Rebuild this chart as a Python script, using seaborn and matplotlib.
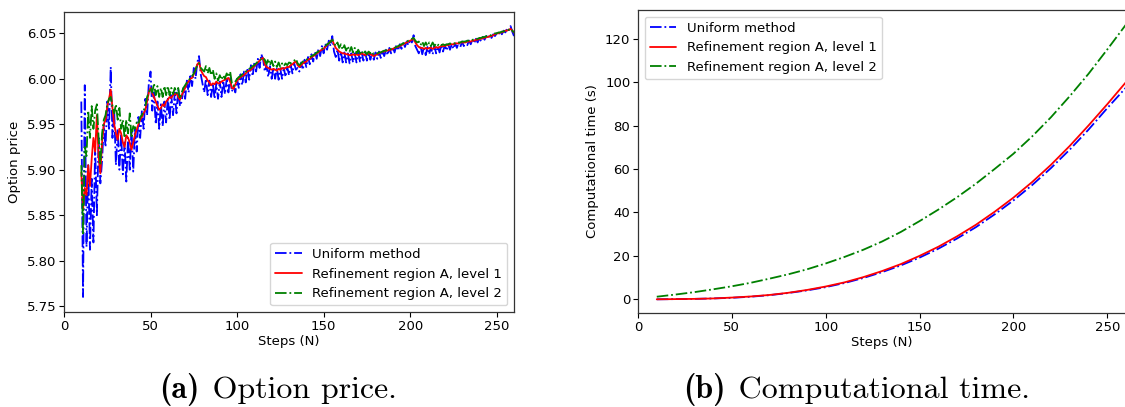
import matplotlib
matplotlib.use("Agg")
import matplotlib.pyplot as plt
import seaborn as sns
import numpy as np

# ---------------- data ----------------
steps = list(range(10, 261))

price_uniform = [
    5.975, 5.760, 5.993, 5.815, 5.905, 5.812, 5.890, 5.820, 5.925, 5.850,   # 10-19
    5.935, 5.885, 5.910, 5.950, 5.925, 5.975, 5.945, 6.013, 5.935, 5.965,   # 20-29
    5.905, 5.945, 5.900, 5.940, 5.895, 5.930, 5.887, 5.935, 5.900, 5.945,   # 30-39
    5.898, 5.945, 5.920, 5.958, 5.935, 5.965, 5.945, 5.978, 5.960, 5.995,   # 40-49
    6.008, 5.965, 5.985, 5.950, 5.975, 5.945, 5.972, 5.948, 5.975, 5.952,   # 50-59
    5.980, 5.955, 5.982, 5.960, 5.985, 5.962, 5.988, 5.970, 5.975, 5.990,   # 60-69
    5.978, 5.998, 5.985, 6.005, 5.992, 6.012, 6.000, 6.018, 6.025, 6.005,   # 70-79
    5.995, 5.985, 6.000, 5.982, 5.998, 5.980, 5.995, 5.978, 5.995, 5.978,   # 80-89
    5.997, 5.980, 5.998, 5.983, 6.000, 5.985, 6.002, 5.986, 5.992, 5.985,   # 90-99
    6.000, 5.990, 6.005, 5.993, 6.008, 5.996, 6.012, 5.999, 6.015, 6.003,   # 100-109
    6.018, 6.008, 6.022, 6.012, 6.027, 6.022, 6.008, 6.015, 6.002, 6.014,   # 110-119
    6.000, 6.012, 6.000, 6.012, 5.999, 6.011, 6.000, 6.012, 6.002, 6.013,   # 120-129
    6.004, 6.015, 6.006, 6.017, 6.010, 6.012, 6.008, 6.018, 6.010, 6.021,   # 130-139
    6.013, 6.024, 6.016, 6.027, 6.019, 6.030, 6.022, 6.033, 6.025, 6.036,   # 140-149
    6.028, 6.039, 6.032, 6.042, 6.036, 6.047, 6.030, 6.024, 6.032, 6.020,   # 150-159
    6.030, 6.018, 6.029, 6.018, 6.028, 6.017, 6.028, 6.018, 6.028, 6.018,   # 160-169
    6.029, 6.019, 6.029, 6.020, 6.030, 6.020, 6.030, 6.021, 6.028, 6.021,   # 170-179
    6.029, 6.022, 6.030, 6.023, 6.031, 6.025, 6.032, 6.026, 6.034, 6.028,   # 180-189
    6.035, 6.029, 6.037, 6.031, 6.038, 6.033, 6.040, 6.035, 6.041, 6.037,   # 190-199
    6.043, 6.040, 6.048, 6.036, 6.032, 6.028, 6.036, 6.027, 6.035, 6.026,   # 200-209
    6.035, 6.027, 6.035, 6.027, 6.036, 6.028, 6.036, 6.029, 6.037, 6.030,   # 210-219
    6.037, 6.031, 6.038, 6.032, 6.038, 6.033, 6.039, 6.034, 6.040, 6.035,   # 220-229
    6.041, 6.036, 6.041, 6.037, 6.042, 6.038, 6.043, 6.039, 6.044, 6.040,   # 230-239
    6.045, 6.041, 6.046, 6.043, 6.047, 6.044, 6.048, 6.045, 6.049, 6.047,   # 240-249
    6.050, 6.048, 6.052, 6.049, 6.053, 6.051, 6.055, 6.053, 6.058, 6.052,   # 250-259
    6.047,                                                                   # 260
]

price_level1 = [
    5.897, 5.856, 5.880, 5.872, 5.905, 5.882, 5.912, 5.935, 5.920, 5.960,
    5.915, 5.896, 5.930, 5.950, 5.955, 5.970, 5.978, 5.988, 5.968, 5.950,
    5.940, 5.933, 5.945, 5.940, 5.930, 5.925, 5.938, 5.935, 5.930, 5.922,
    5.930, 5.938, 5.944, 5.950, 5.955, 5.958, 5.962, 5.966, 5.975, 5.985,
    5.990, 5.984, 5.980, 5.975, 5.970, 5.966, 5.968, 5.972, 5.970, 5.975,
    5.977, 5.980, 5.979, 5.982, 5.983, 5.984, 5.980, 5.977, 5.982, 5.986,
    5.990, 5.995, 5.997, 6.000, 6.001, 6.005, 6.010, 6.016, 6.018, 6.010,
    6.006, 6.003, 6.002, 5.998, 5.996, 5.993, 5.995, 5.994, 5.997, 5.995,
    5.995, 5.997, 5.998, 5.999, 6.000, 6.001, 5.997, 5.990, 5.989, 5.994,
    5.998, 6.000, 6.002, 6.003, 6.004, 6.006, 6.008, 6.009, 6.010, 6.012,
    6.014, 6.016, 6.018, 6.020, 6.022, 6.023, 6.016, 6.013, 6.012, 6.011,
    6.010, 6.011, 6.010, 6.009, 6.011, 6.010, 6.012, 6.011, 6.012, 6.013,
    6.013, 6.015, 6.016, 6.018, 6.019, 6.015, 6.013, 6.015, 6.017, 6.018,
    6.019, 6.021, 6.022, 6.024, 6.025, 6.026, 6.028, 6.029, 6.031, 6.032,
    6.033, 6.035, 6.037, 6.039, 6.041, 6.043, 6.038, 6.034, 6.032, 6.030,
    6.029, 6.028, 6.028, 6.027, 6.027, 6.026, 6.026, 6.027, 6.026, 6.027,
    6.026, 6.027, 6.028, 6.027, 6.026, 6.027, 6.028, 6.027, 6.026, 6.025,
    6.026, 6.027, 6.028, 6.029, 6.030, 6.030, 6.031, 6.031, 6.032, 6.032,
    6.033, 6.034, 6.035, 6.035, 6.036, 6.037, 6.038, 6.039, 6.040, 6.041,
    6.042, 6.043, 6.044, 6.040, 6.037, 6.035, 6.034, 6.034, 6.033, 6.034,
    6.033, 6.034, 6.034, 6.033, 6.034, 6.035, 6.034, 6.035, 6.036, 6.036,
    6.036, 6.037, 6.037, 6.038, 6.038, 6.038, 6.039, 6.039, 6.039, 6.040,
    6.040, 6.040, 6.040, 6.041, 6.041, 6.041, 6.042, 6.042, 6.043, 6.043,
    6.044, 6.044, 6.045, 6.045, 6.046, 6.046, 6.047, 6.047, 6.048, 6.049,
    6.050, 6.050, 6.051, 6.051, 6.052, 6.053, 6.053, 6.054, 6.055, 6.053,
    6.051,
]

price_level2 = [
    5.905, 5.830, 5.925, 5.915, 5.965, 5.935, 5.970, 5.945, 5.965, 5.972,
    5.935, 5.905, 5.940, 5.955, 5.960, 5.972, 5.978, 5.980, 5.970, 5.962,
    5.972, 5.955, 5.968, 5.945, 5.955, 5.935, 5.955, 5.940, 5.962, 5.935,
    5.948, 5.945, 5.952, 5.950, 5.958, 5.960, 5.965, 5.970, 5.980, 5.985,
    5.990, 5.985, 5.995, 5.982, 5.992, 5.980, 5.990, 5.980, 5.992, 5.982,
    5.992, 5.982, 5.990, 5.983, 5.990, 5.984, 5.990, 5.978, 5.985, 5.990,
    5.993, 5.996, 5.998, 6.001, 6.003, 6.006, 6.010, 6.015, 6.017, 6.012,
    6.010, 6.008, 6.014, 6.006, 6.012, 6.004, 6.010, 6.000, 6.006, 5.998,
    6.004, 5.999, 6.004, 6.000, 6.006, 6.002, 6.008, 5.995, 5.992, 5.997,
    6.000, 6.002, 6.003, 6.005, 6.006, 6.008, 6.009, 6.011, 6.012, 6.014,
    6.015, 6.017, 6.019, 6.020, 6.022, 6.023, 6.021, 6.016, 6.022, 6.015,
    6.020, 6.014, 6.019, 6.013, 6.018, 6.013, 6.017, 6.014, 6.017, 6.015,
    6.018, 6.017, 6.019, 6.020, 6.022, 6.017, 6.015, 6.017, 6.019, 6.020,
    6.021, 6.022, 6.024, 6.025, 6.026, 6.027, 6.029, 6.030, 6.032, 6.033,
    6.034, 6.036, 6.038, 6.039, 6.041, 6.043, 6.040, 6.036, 6.040, 6.034,
    6.038, 6.032, 6.037, 6.031, 6.036, 6.030, 6.035, 6.029, 6.034, 6.028,
    6.032, 6.028, 6.031, 6.027, 6.030, 6.027, 6.030, 6.028, 6.030, 6.027,
    6.028, 6.028, 6.029, 6.029, 6.030, 6.031, 6.031, 6.032, 6.032, 6.033,
    6.033, 6.034, 6.035, 6.036, 6.037, 6.038, 6.039, 6.040, 6.041, 6.042,
    6.043, 6.044, 6.045, 6.042, 6.040, 6.041, 6.037, 6.041, 6.036, 6.040,
    6.036, 6.040, 6.036, 6.040, 6.036, 6.039, 6.037, 6.039, 6.037, 6.038,
    6.037, 6.038, 6.038, 6.039, 6.038, 6.039, 6.039, 6.040, 6.040, 6.040,
    6.041, 6.041, 6.041, 6.042, 6.042, 6.042, 6.043, 6.043, 6.044, 6.044,
    6.045, 6.045, 6.046, 6.046, 6.047, 6.047, 6.048, 6.048, 6.049, 6.050,
    6.050, 6.051, 6.051, 6.052, 6.052, 6.053, 6.053, 6.054, 6.055, 6.053,
    6.051,
]

time_steps = [10, 20, 30, 40, 50, 60, 70, 80, 90, 100, 110, 120, 130,
              140, 150, 160, 170, 180, 190, 200, 210, 220, 230, 240, 250, 260]
time_uniform = [0.0, 0.1, 0.2, 0.4, 0.7, 1.2, 1.9, 2.9, 4.1, 5.6, 7.5, 9.8, 12.5,
                15.6, 19.2, 23.3, 28.0, 33.2, 39.1, 45.5, 52.6, 60.4, 68.9, 78.1, 88.0, 97.5]
time_level1 = [0.0, 0.1, 0.2, 0.4, 0.8, 1.3, 2.0, 3.0, 4.3, 5.9, 7.8, 10.2, 13.0,
               16.2, 20.0, 24.2, 29.0, 34.3, 40.3, 46.8, 54.0, 61.9, 70.6, 80.0, 89.8, 100.0]
time_level2 = [1.2, 2.2, 3.3, 4.6, 6.0, 7.6, 9.5, 11.5, 13.8, 16.5, 19.5, 22.8, 26.6,
               31.0, 36.0, 41.3, 47.0, 53.2, 60.0, 67.0, 75.0, 83.8, 93.5, 103.8, 115.0, 126.5]

labels = ["Uniform method", "Refinement region A, level 1", "Refinement region A, level 2"]
colors = ["#0000ff", "#ff0000", "#008000"]
styles = ["-.", "-", "-."]

captions = [("(a)", "Option price."), ("(b)", "Computational time.")]

# ---------------- style ----------------
sns.set_theme(style="ticks")
plt.rcParams["font.family"] = ["DejaVu Sans"]
plt.rcParams["text.color"] = "black"
plt.rcParams["axes.labelcolor"] = "black"
FS = 9.5

fig = plt.figure(figsize=(11.25, 4.07), dpi=100)
W, H = 1125.0, 407.0
ax1 = fig.add_axes([64 / W, 1 - 312 / H, (514 - 64) / W, (312 - 12) / H])
ax2 = fig.add_axes([638 / W, 1 - 313 / H, (1126 - 638) / W, (313 - 10) / H])

for vals, lab, c, ls in zip([price_uniform, price_level1, price_level2], labels, colors, styles):
    sns.lineplot(x=steps, y=vals, ax=ax1, color=c, linestyle=ls, linewidth=1.3, label=lab)

for vals, lab, c, ls in zip([time_uniform, time_level1, time_level2], labels, colors, styles):
    sns.lineplot(x=time_steps, y=vals, ax=ax2, color=c, linestyle=ls, linewidth=1.3, label=lab)

ax1.set_xlim(0, 260)
ax1.set_ylim(5.7435, 6.0735)
ax1.set_yticks([5.75, 5.80, 5.85, 5.90, 5.95, 6.00, 6.05])
ax1.set_xticks([0, 50, 100, 150, 200, 250])
ax2.set_xlim(0, 260)
ax2.set_ylim(-6.3, 133.2)
ax2.set_yticks([0, 20, 40, 60, 80, 100, 120])
ax2.set_xticks([0, 50, 100, 150, 200, 250])

ax1.set_xlabel("Steps (N)", fontsize=FS, labelpad=2)
ax1.set_ylabel("Option price", fontsize=FS, labelpad=4)
ax2.set_xlabel("Steps (N)", fontsize=FS, labelpad=2)
ax2.set_ylabel("Computational time (s)", fontsize=FS, labelpad=4)

for ax in (ax1, ax2):
    ax.tick_params(labelsize=FS, length=3.5, width=0.8, pad=2, colors="black")
    for sp in ax.spines.values():
        sp.set_visible(True)
        sp.set_linewidth(0.9)
        sp.set_color("#333333")

ax1.legend(loc="lower right", fontsize=FS, frameon=True, handlelength=2.0)
ax2.legend(loc="upper left", fontsize=FS, frameon=True, handlelength=2.0)

# captions: bold label in cmb10, text in cmr10, centred as a group
renderer = fig.canvas.get_renderer()
CFS = 23
for (bold, rest), cx in zip(captions, [280 / W, 859 / W]):
    y = 1 - 390 / H
    tb = fig.text(0, y, bold, fontfamily="cmb10", fontsize=CFS, va="center", ha="left", color="black")
    tr = fig.text(0, y, " " + rest, fontfamily="cmr10", fontsize=CFS, va="center", ha="left", color="black")
    wb = tb.get_window_extent(renderer).width / fig.bbox.width
    wr = tr.get_window_extent(renderer).width / fig.bbox.width
    gap = 0.006
    x0 = cx - (wb + gap + wr) / 2
    tb.set_x(x0)
    tr.set_x(x0 + wb + gap - 0.004)

fig.savefig("out.png", dpi=100)
